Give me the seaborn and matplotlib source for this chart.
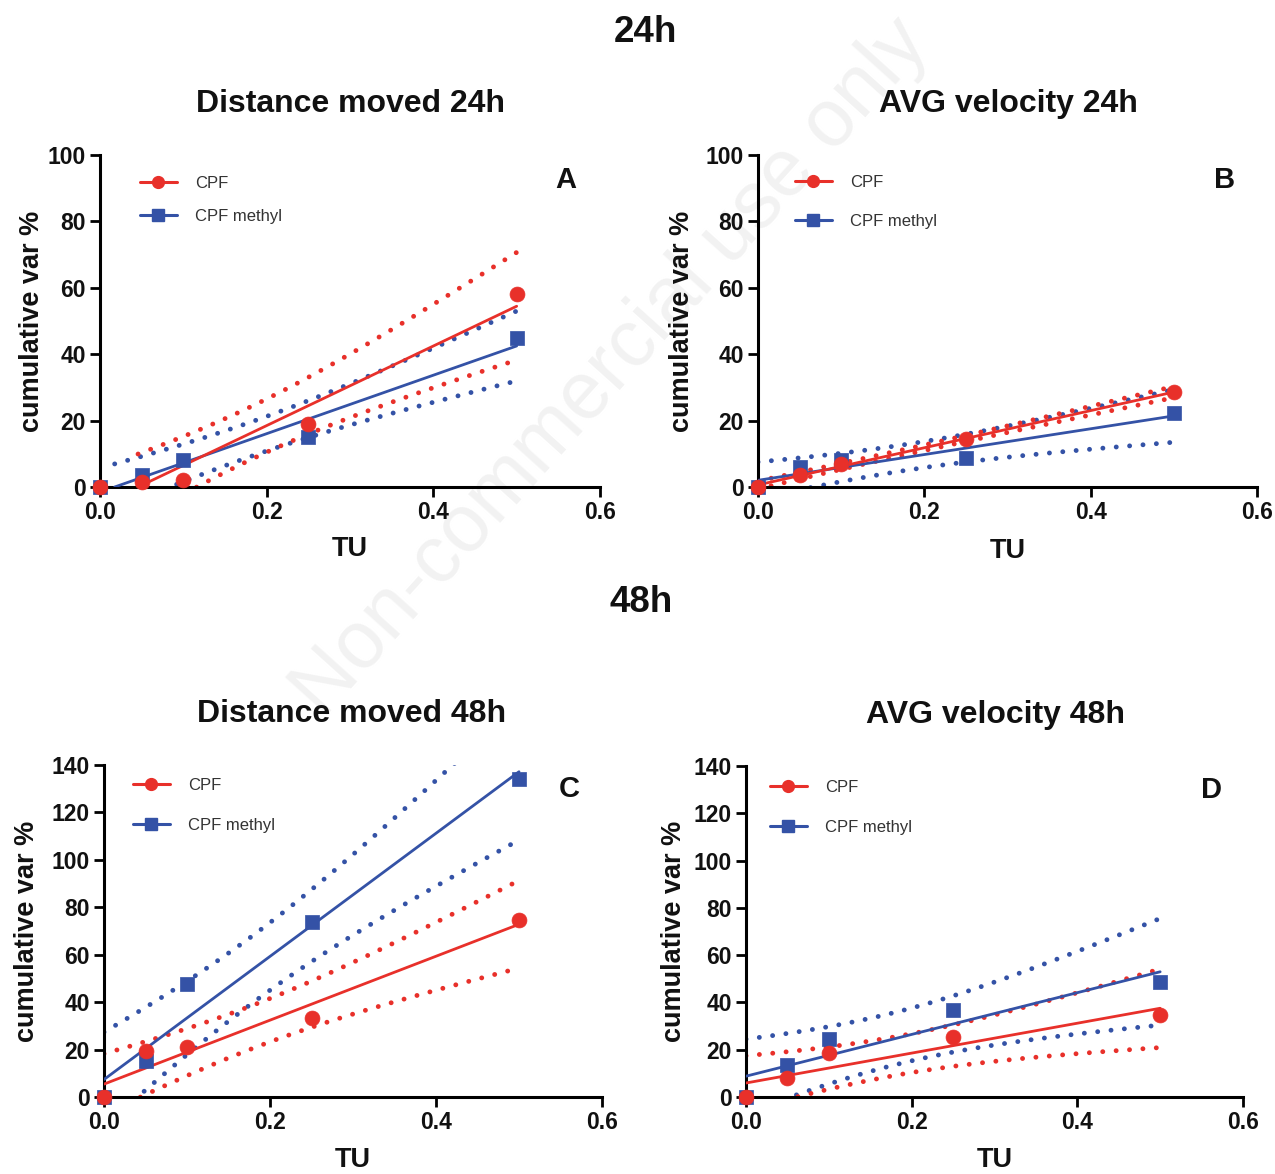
import numpy as np
import pandas as pd
import matplotlib
matplotlib.use("Agg")
import matplotlib.pyplot as plt
import seaborn as sns
from matplotlib.lines import Line2D

sns.set_theme(style="ticks")
plt.rcParams['font.family'] = ['Liberation Sans', 'DejaVu Sans']

# ---------------- data ----------------
tu = [0.0, 0.05, 0.10, 0.25, 0.50]

dist24_cpf = [0.0, 1.5, 2.0, 19.0, 58.0]
dist24_methyl = [0.0, 3.5, 8.0, 15.0, 45.0]

vel24_cpf = [0.0, 3.5, 7.0, 14.5, 28.5]
vel24_methyl = [0.0, 6.0, 8.0, 8.7, 22.3]

dist48_cpf = [0.0, 19.5, 21.0, 33.5, 74.5]
dist48_methyl = [0.0, 15.0, 47.5, 74.0, 134.0]

vel48_cpf = [0.0, 8.0, 18.5, 25.5, 34.5]
vel48_methyl = [0.0, 13.5, 24.5, 37.0, 48.5]

series_names = ["CPF", "CPF methyl"]
panel_titles = ["Distance moved 24h", "AVG velocity 24h",
                "Distance moved 48h", "AVG velocity 48h"]
panel_letters = ["A", "B", "C", "D"]
section_titles = ["24h", "48h"]
y_ticks_24 = [0, 20, 40, 60, 80, 100]
y_ticks_48 = [0, 20, 40, 60, 80, 100, 120, 140]
x_ticks = [0.0, 0.2, 0.4, 0.6]

T_CRIT = 3.182446  # t(0.975, df=3)

RED = "#e8302a"
BLUE = "#3452a6"

W, H = 1275, 1174
fig = plt.figure(figsize=(W / 100, H / 100), dpi=100)


def px_axes(l, r, b, t):
    return fig.add_axes([l / W, 1 - b / H, (r - l) / W, (b - t) / H])


def fit_band(x, y, ymin=0.0):
    x = np.asarray(x, float)
    y = np.asarray(y, float)
    n = len(x)
    slope, icpt = np.polyfit(x, y, 1)
    resid = y - (slope * x + icpt)
    s = np.sqrt(np.sum(resid ** 2) / (n - 2))
    sxx = np.sum((x - x.mean()) ** 2)
    x0 = x.min()
    if icpt < ymin and slope > 0:
        x0 = max(x0, (ymin - icpt) / slope)
    xs = np.linspace(x0, x.max(), 200)
    yf = slope * xs + icpt
    se = s * np.sqrt(1.0 / n + (xs - x.mean()) ** 2 / sxx)
    return xs, yf, yf - T_CRIT * se, yf + T_CRIT * se


panels = [
    dict(rect=(100, 600, 487, 155), cpf=dist24_cpf, met=dist24_methyl, ymax=100,
         yt=y_ticks_24, leg=(0.08, 0.938), ls=1.1, letter=(0.932, 0.925),
         ylab=-0.135, xlab=-0.187),
    dict(rect=(758, 1257, 487, 155), cpf=vel24_cpf, met=vel24_methyl, ymax=100,
         yt=y_ticks_24, leg=(0.074, 0.94), ls=1.45, letter=(0.934, 0.925),
         ylab=-0.152, xlab=-0.193),
    dict(rect=(104, 602, 1097, 765), cpf=dist48_cpf, met=dist48_methyl, ymax=140,
         yt=y_ticks_48, leg=(0.058, 0.961), ls=1.5, letter=(0.934, 0.928),
         ylab=-0.155, xlab=-0.19),
    dict(rect=(746, 1243, 1097, 766), cpf=vel48_cpf, met=vel48_methyl, ymax=140,
         yt=y_ticks_48, leg=(0.048, 0.958), ls=1.5, letter=(0.936, 0.927),
         ylab=-0.145, xlab=-0.19),
]

dot_style = dict(linestyle=(0, (0.01, 2.75)), linewidth=3.5,
                 dash_capstyle="round")

# watermark (behind everything)
fig.text(612 / W, 1 - 368 / H, "Non-commercial use only", ha="center",
         va="center", rotation=48, fontsize=58, color="#f2f2f2", zorder=-5)

for i, p in enumerate(panels):
    l, r, b, t = p["rect"]
    ax = px_axes(l, r, b, t)
    ax.set_facecolor("none")

    for vals, col, mk in [(p["met"], BLUE, "s"), (p["cpf"], RED, "o")]:
        xs, yf, lo, hi = fit_band(tu, vals)
        df_fit = pd.DataFrame({"x": xs, "fit": yf, "lo": lo, "hi": hi})
        sns.lineplot(data=df_fit, x="x", y="fit", ax=ax, color=col,
                     linewidth=2.0, zorder=3, sort=False)
        sns.lineplot(data=df_fit, x="x", y="lo", ax=ax, color=col,
                     zorder=2, sort=False, **dot_style)
        sns.lineplot(data=df_fit, x="x", y="hi", ax=ax, color=col,
                     zorder=2, sort=False, **dot_style)
    for vals, col, mk in [(p["met"], BLUE, "s"), (p["cpf"], RED, "o")]:
        df_pts = pd.DataFrame({"x": tu, "y": vals})
        sns.scatterplot(data=df_pts, x="x", y="y", ax=ax, color=col,
                        marker=mk, s=115, edgecolor=col, linewidth=0.5,
                        zorder=4, clip_on=False)

    ax.set_xlim(0, 0.6)
    ax.set_ylim(0, p["ymax"])
    ax.set_xticks(x_ticks)
    ax.set_xticklabels([f"{v:.1f}" for v in x_ticks])
    ax.set_yticks(p["yt"])
    ax.set_yticklabels([str(v) for v in p["yt"]])
    for lab in ax.get_xticklabels() + ax.get_yticklabels():
        lab.set_fontweight("bold")
        lab.set_fontsize(16.5)
    ax.tick_params(axis="both", direction="out", length=7, width=2.0,
                   color="black", pad=3, labelcolor="#111111")
    sns.despine(ax=ax)
    for sp in ["left", "bottom"]:
        ax.spines[sp].set_linewidth(2.2)
        ax.spines[sp].set_color("black")

    ax.set_xlabel("TU", fontsize=19.5, fontweight="bold", color="#111111")
    ax.xaxis.set_label_coords(0.5, p["xlab"])
    ax.xaxis.label.set_va("center")
    ax.set_ylabel("cumulative var %", fontsize=19.5, fontweight="bold",
                  color="#111111")
    ax.yaxis.set_label_coords(p["ylab"], 0.5)
    ax.yaxis.label.set_va("center")

    ax.text(p["letter"][0], p["letter"][1], panel_letters[i],
            transform=ax.transAxes, ha="center", va="center",
            fontsize=21, fontweight="bold", color="#111111")

    handles = [
        Line2D([], [], color=RED, marker="o", markersize=8.5, linewidth=2.2),
        Line2D([], [], color=BLUE, marker="s", markersize=8.5, linewidth=2.2),
    ]
    leg = ax.legend(handles, series_names, loc="upper left",
                    bbox_to_anchor=p["leg"], frameon=False, fontsize=12,
                    handlelength=2.2, handletextpad=1.1,
                    labelspacing=p["ls"], borderpad=0, borderaxespad=0)
    for txt in leg.get_texts():
        txt.set_color("#333333")

# titles
fig.text(645 / W, 1 - 32 / H, section_titles[0], ha="center", va="center",
         fontsize=26.5, fontweight="bold", color="#111111")
fig.text(641 / W, 1 - 603 / H, section_titles[1], ha="center", va="center",
         fontsize=26.5, fontweight="bold", color="#111111")
fig.text(350 / W, 1 - 104 / H, panel_titles[0], ha="center", va="center",
         fontsize=23, fontweight="bold", color="#111111")
fig.text(1008 / W, 1 - 104 / H, panel_titles[1], ha="center", va="center",
         fontsize=23, fontweight="bold", color="#111111")
fig.text(352 / W, 1 - 714 / H, panel_titles[2], ha="center", va="center",
         fontsize=23, fontweight="bold", color="#111111")
fig.text(995 / W, 1 - 715 / H, panel_titles[3], ha="center", va="center",
         fontsize=23, fontweight="bold", color="#111111")

fig.savefig("out.png", dpi=100)
